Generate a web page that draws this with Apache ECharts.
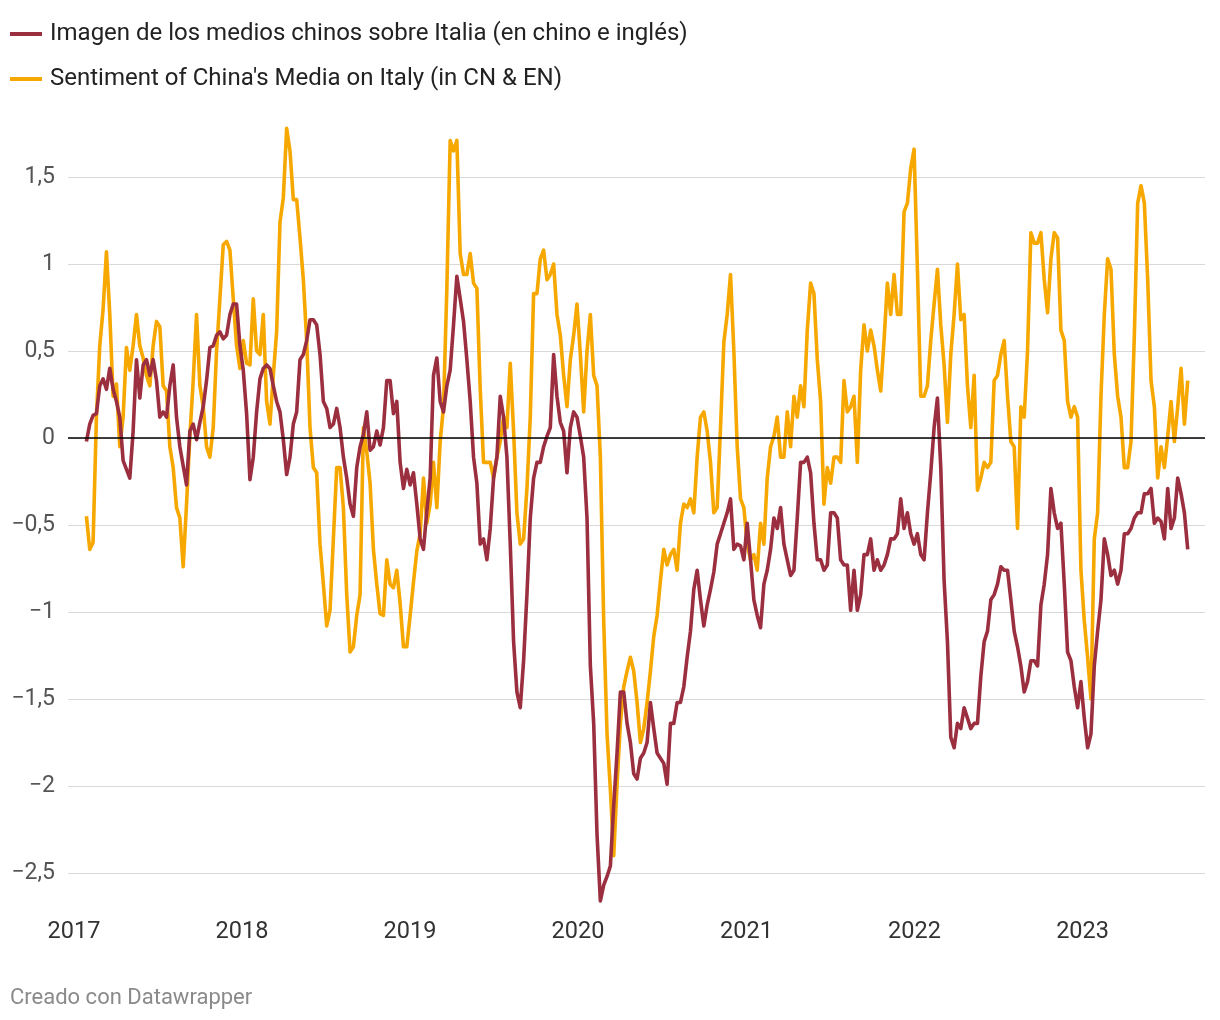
<!DOCTYPE html>
<html>
<head>
<meta charset="utf-8">
<script src="https://cdn.jsdelivr.net/npm/echarts@6/dist/echarts.min.js"></script>
<style>
html,body{margin:0;padding:0;background:#fff;}
#chart{width:1220px;height:1020px;}
</style>
</head>
<body>
<div id="chart"></div>
<script>
// ---- DATA ----
const seriesNames = [
  'Imagen de los medios chinos sobre Italia (en chino e inglés)',
  "Sentiment of China's Media on Italy (in CN & EN)"
];
const yearLabels = ['2017','2018','2019','2020','2021','2022','2023'];
const startDate = '2017-01-28';   // first observation
const stepDays = 7.25;            // spacing between observations (about weekly)

// Imagen de los medios chinos sobre Italia (dark red)
const imagen = [
  -0.02, 0.08, 0.13, 0.14, 0.30, 0.34, 0.28, 0.40, 0.28, 0.21,
  0.12, -0.13, -0.18, -0.23, 0.04, 0.45, 0.23, 0.42, 0.45, 0.36,
  0.45, 0.33, 0.12, 0.15, 0.12, 0.30, 0.42, 0.12, -0.05, -0.16,
  -0.27, 0.04, 0.08, -0.01, 0.09, 0.18, 0.33, 0.52, 0.53, 0.59,
  0.61, 0.57, 0.59, 0.71, 0.77, 0.77, 0.53, 0.39, 0.14, -0.24,
  -0.11,
  0.15, 0.34, 0.40, 0.42, 0.40, 0.30, 0.21, 0.15, -0.01, -0.21,
  -0.11, 0.08, 0.15, 0.45, 0.48, 0.56, 0.68, 0.68, 0.65, 0.48,
  0.21, 0.17, 0.06, 0.08, 0.17, 0.06, -0.11, -0.23, -0.38, -0.45,
  -0.17, -0.05, 0.02, 0.15, -0.07, -0.05, 0.04, -0.04, 0.06, 0.33,
  0.33, 0.14, 0.21, -0.14, -0.29, -0.18, -0.27, -0.20, -0.38, -0.58,
  -0.64, -0.42, -0.23, 0.36, 0.46, 0.21,
  0.15, 0.30, 0.39, 0.65, 0.93, 0.80, 0.67, 0.45, 0.21, -0.11,
  -0.26, -0.61, -0.58, -0.70, -0.52, -0.23, -0.11, 0.24, 0.12, -0.11,
  -0.61, -1.17, -1.46, -1.55, -1.28, -0.90, -0.46, -0.23, -0.14, -0.14,
  -0.05, 0.01, 0.06, 0.48, 0.24, 0.09, 0.04, -0.20, 0.06, 0.15,
  0.12, 0.01, -0.11, -0.46, -1.31, -1.64, -2.28, -2.66, -2.57, -2.52,
  -2.46, -2.11, -1.81, -1.46, -1.46,
  -1.64, -1.75, -1.93, -1.96, -1.84, -1.81, -1.75, -1.52, -1.67, -1.81,
  -1.84, -1.87, -1.99, -1.64, -1.64, -1.52, -1.52, -1.43, -1.26, -1.11,
  -0.87, -0.76, -0.93, -1.08, -0.96, -0.87, -0.77, -0.61, -0.55, -0.49,
  -0.43, -0.35, -0.64, -0.61, -0.62, -0.70, -0.49, -0.70, -0.93, -1.02,
  -1.09, -0.84, -0.76, -0.64, -0.46, -0.52, -0.40, -0.61, -0.70, -0.79,
  -0.76, -0.46, -0.14, -0.14, -0.11, -0.20,
  -0.49, -0.70, -0.70, -0.76, -0.73, -0.43, -0.43, -0.46, -0.70, -0.73,
  -0.73, -0.99, -0.76, -0.99, -0.90, -0.67, -0.67, -0.58, -0.76, -0.70,
  -0.76, -0.73, -0.67, -0.58, -0.58, -0.55, -0.35, -0.52, -0.43, -0.55,
  -0.61, -0.55, -0.67, -0.70, -0.43, -0.20, 0.06, 0.23, -0.17, -0.82,
  -1.17, -1.72, -1.78, -1.64, -1.67, -1.55, -1.61, -1.67, -1.64, -1.64,
  -1.37, -1.17, -1.11, -0.93, -0.90,
  -0.84, -0.74, -0.76, -0.76, -0.93, -1.11, -1.20, -1.31, -1.46, -1.40,
  -1.28, -1.28, -1.31, -0.96, -0.84, -0.67, -0.29, -0.43, -0.52, -0.49,
  -0.84, -1.23, -1.28, -1.43, -1.55, -1.40, -1.61, -1.78, -1.70, -1.31,
  -1.11, -0.93, -0.58, -0.67, -0.79, -0.76, -0.84, -0.76, -0.55, -0.55,
  -0.52, -0.46, -0.43, -0.43, -0.32, -0.32, -0.29, -0.49, -0.46, -0.48,
  -0.58, -0.29, -0.52, -0.46, -0.23, -0.32, -0.43, -0.64
];

// Sentiment of China's Media on Italy (orange)
const sentiment = [
  -0.45, -0.64, -0.60, 0.12, 0.53, 0.74, 1.07, 0.71, 0.24, 0.31,
  -0.05, 0.12, 0.52, 0.39, 0.53, 0.71, 0.53, 0.46, 0.36, 0.30,
  0.53, 0.67, 0.64, 0.30, 0.27, -0.05, -0.17, -0.40, -0.46, -0.74,
  -0.38, 0.01, 0.33, 0.71, 0.30, 0.18, -0.05, -0.11, 0.06, 0.50,
  0.80, 1.11, 1.13, 1.08, 0.80, 0.53, 0.40, 0.56, 0.43, 0.42,
  0.80,
  0.50, 0.48, 0.71, 0.21, 0.08, 0.36, 0.61, 1.24, 1.38, 1.78,
  1.65, 1.37, 1.37, 1.15, 0.91, 0.56, 0.06, -0.17, -0.20, -0.61,
  -0.84, -1.08, -0.99, -0.58, -0.17, -0.17, -0.40, -0.90, -1.23, -1.20,
  -1.02, -0.90, 0.06, -0.08, -0.26, -0.64, -0.84, -1.01, -1.02, -0.70,
  -0.84, -0.86, -0.76, -0.95, -1.20, -1.20, -1.02, -0.83, -0.65, -0.55,
  -0.23, -0.49, -0.38, -0.14, -0.40, -0.02,
  0.18, 0.86, 1.71, 1.65, 1.71, 1.06, 0.94, 0.94, 1.06, 0.89,
  0.86, 0.28, -0.14, -0.14, -0.14, -0.23, -0.11, -0.02, 0.12, 0.06,
  0.43, 0.04, -0.43, -0.61, -0.58, -0.29, 0.12, 0.83, 0.83, 1.03,
  1.08, 0.91, 0.94, 1.00, 0.71, 0.59, 0.36, 0.18, 0.45, 0.59,
  0.77, 0.48, 0.15, 0.50, 0.71, 0.36, 0.30, -0.11, -1.05, -1.70,
  -2.02, -2.40, -1.99, -1.64, -1.43,
  -1.34, -1.26, -1.34, -1.52, -1.75, -1.67, -1.52, -1.34, -1.14, -1.02,
  -0.82, -0.64, -0.73, -0.67, -0.64, -0.76, -0.49, -0.38, -0.40, -0.35,
  -0.43, -0.11, 0.12, 0.15, 0.04, -0.14, -0.43, -0.40, 0.06, 0.55,
  0.71, 0.94, 0.50, -0.05, -0.35, -0.40, -0.61, -0.70, -0.67, -0.76,
  -0.49, -0.61, -0.23, -0.05, 0.01, 0.12, -0.11, -0.11, 0.15, -0.05,
  0.24, 0.12, 0.30, 0.18, 0.62, 0.89,
  0.83, 0.45, 0.21, -0.38, -0.17, -0.26, -0.11, -0.11, -0.14, 0.33,
  0.15, 0.18, 0.24, -0.14, 0.39, 0.65, 0.50, 0.62, 0.53, 0.39,
  0.27, 0.56, 0.89, 0.71, 0.94, 0.71, 0.71, 1.30, 1.35, 1.55,
  1.66, 0.97, 0.24, 0.24, 0.30, 0.56, 0.77, 0.97, 0.65, 0.42,
  0.09, 0.48, 0.71, 1.00, 0.68, 0.71, 0.30, 0.06, 0.36, -0.30,
  -0.23, -0.14, -0.17, -0.14, 0.33,
  0.36, 0.48, 0.56, 0.24, -0.02, -0.05, -0.52, 0.18, 0.12, 0.50,
  1.18, 1.12, 1.12, 1.18, 0.91, 0.72, 1.03, 1.18, 1.15, 0.62,
  0.56, 0.21, 0.12, 0.18, 0.12, -0.76, -1.05, -1.26, -1.50, -0.58,
  -0.43, 0.24, 0.71, 1.03, 0.97, 0.48, 0.24, 0.12, -0.17, -0.17,
  -0.02, 0.59, 1.35, 1.45, 1.35, 0.91, 0.33, 0.18, -0.23, -0.05,
  -0.17, 0.01, 0.21, -0.02, 0.18, 0.40, 0.08, 0.33
];

// ---- CHART ----
const DAY = 86400000;
const t0 = Date.parse(startDate + 'T00:00:00Z');
const dates = imagen.map((_, i) => t0 + Math.round(i * stepDays * DAY));
const toPairs = vals => vals.map((v, i) => [dates[i], v]);

const FONT = 'Roboto, "Noto Sans", sans-serif';
const RED = '#9b2f40';
const ORANGE = '#f6a800';

const chart = echarts.init(document.getElementById('chart'), null, {renderer: 'canvas'});
chart.setOption({
  animation: false,
  useUTC: true,
  backgroundColor: '#ffffff',
  textStyle: {fontFamily: FONT},
  legend: {
    orient: 'vertical',
    left: 5,
    top: 15,
    itemWidth: 32,
    itemHeight: 4,
    itemGap: 17,
    icon: 'rect',
    data: seriesNames,
    textStyle: {fontFamily: FONT, fontSize: 24, color: '#222', lineHeight: 28, padding: [0, 0, 0, 3]}
  },
  grid: {left: 68, right: 15, top: 177, bottom: 147, containLabel: false},
  xAxis: {
    type: 'time',
    min: Date.UTC(2016, 11, 19),
    max: Date.UTC(2023, 8, 24),
    splitNumber: 7,
    axisLine: {show: false, onZero: false},
    axisTick: {show: false},
    splitLine: {show: false},
    axisLabel: {
      margin: 47,
      fontFamily: FONT,
      fontSize: 23.5,
      color: '#333',
      hideOverlap: false,
      formatter: function (val) {
        const d = new Date(val);
        const y = String(d.getUTCFullYear());
        return (d.getUTCMonth() === 0 && d.getUTCDate() === 1 && yearLabels.indexOf(y) >= 0) ? y : '';
      }
    }
  },
  yAxis: {
    type: 'value',
    min: -2.5,
    max: 1.5,
    interval: 0.5,
    axisLine: {show: false},
    axisTick: {show: false},
    splitLine: {show: true, lineStyle: {color: '#d9d9d9', width: 1}},
    axisLabel: {
      margin: 13,
      fontFamily: FONT,
      fontSize: 23,
      color: '#555',
      formatter: v => String(v).replace('.', ',').replace('-', '\u2212')
    }
  },
  series: [
    {
      name: seriesNames[1],
      type: 'line',
      data: toPairs(sentiment),
      showSymbol: false,
      clip: false,
      z: 2,
      lineStyle: {color: ORANGE, width: 3.6, join: 'round'},
      itemStyle: {color: ORANGE},
      markLine: {
        silent: true,
        symbol: ['none', 'none'],
        label: {show: false},
        lineStyle: {color: '#000', width: 1.5, type: 'solid'},
        data: [{yAxis: 0}]
      }
    },
    {
      name: seriesNames[0],
      type: 'line',
      data: toPairs(imagen),
      showSymbol: false,
      clip: false,
      z: 3,
      lineStyle: {color: RED, width: 3.6, join: 'round'},
      itemStyle: {color: RED}
    }
  ],
  graphic: [{
    type: 'text',
    left: 10,
    top: 987,
    style: {text: 'Creado con Datawrapper', fill: '#8a8a8a', font: '22px ' + FONT}
  }]
});
</script>
</body>
</html>
